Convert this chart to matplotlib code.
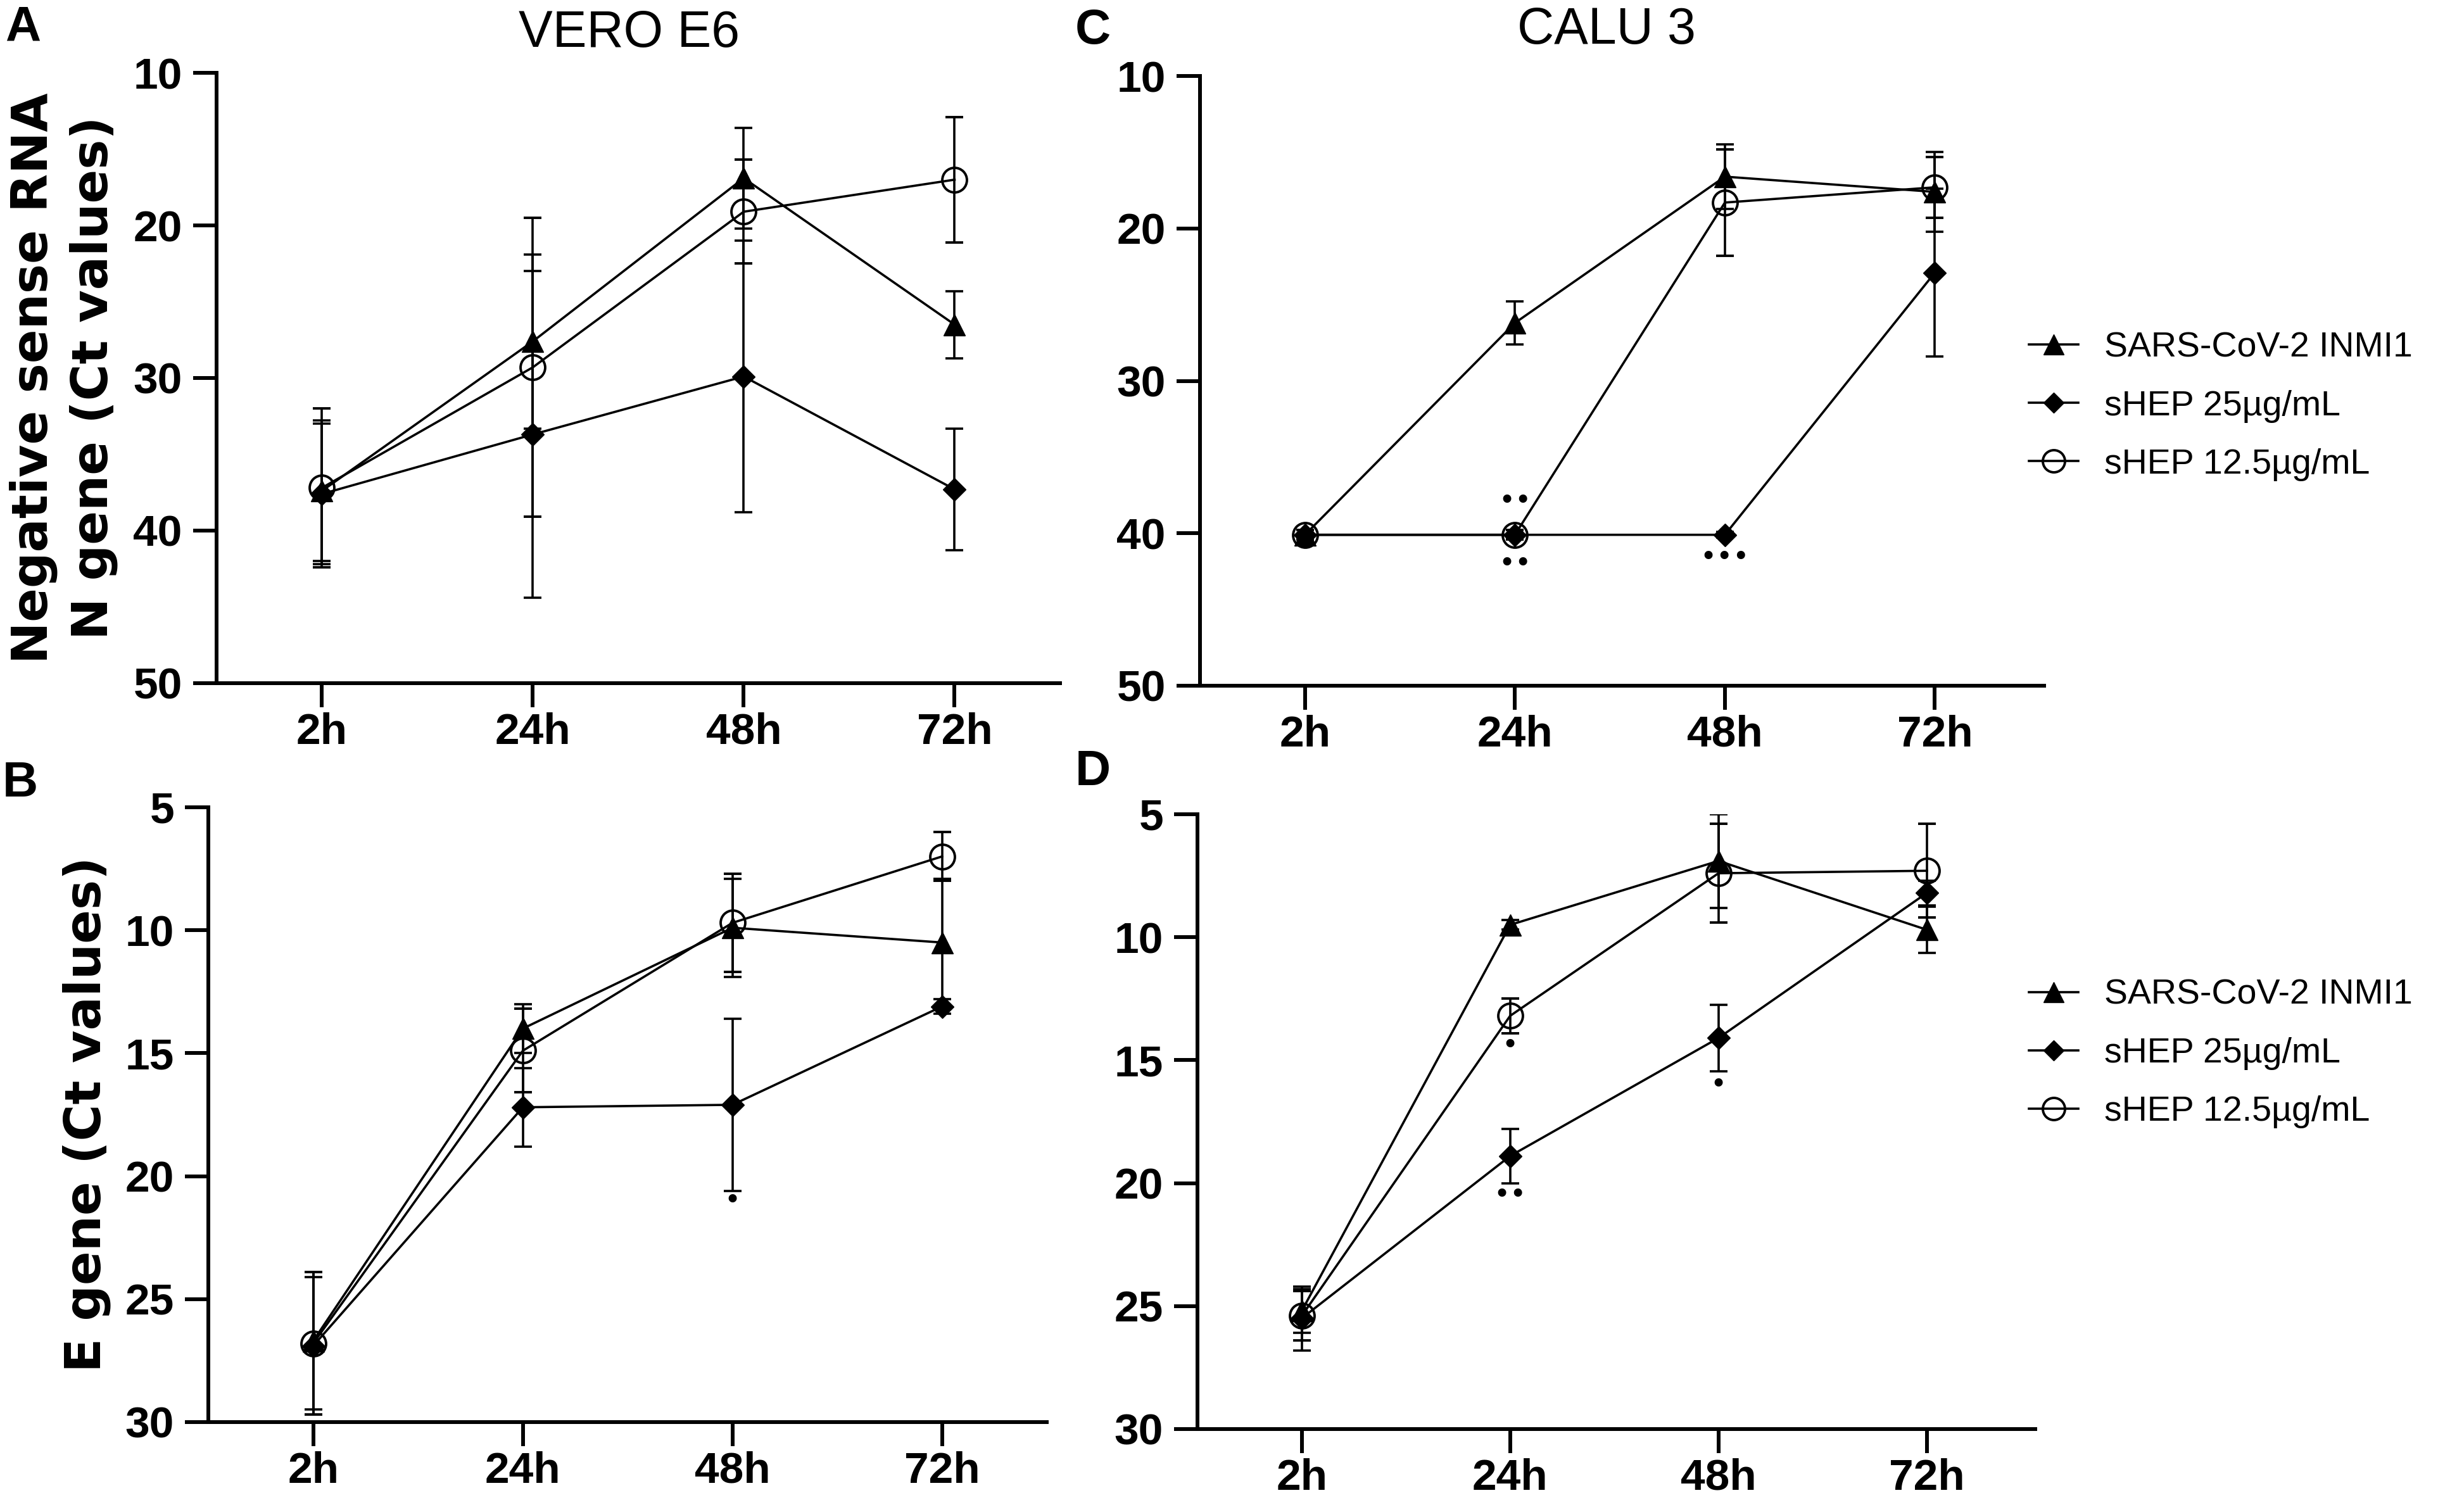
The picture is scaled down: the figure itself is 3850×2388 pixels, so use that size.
import matplotlib
matplotlib.use('Agg')
import matplotlib.pyplot as plt
from matplotlib import font_manager

# fonts: narrow (Arial Narrow like) for ticks if installed
names = set(f.name for f in font_manager.fontManager.ttflist)
NARROW = 'Liberation Sans Narrow' if 'Liberation Sans Narrow' in names else 'Liberation Sans'
ARIAL = 'Liberation Sans'
TICK_SIZE = 54 if NARROW != ARIAL else 50

times = ['2h', '24h', '48h', '72h']
labels = ['SARS-CoV-2 INMI1', 'sHEP 25µg/mL', 'sHEP 12.5µg/mL']

# A - VERO E6, negative sense RNA N gene
sars_A = [37.4, 27.6, 16.9, 26.5]
sars_A_err = [4.6, 5.7, 3.3, 2.2]
hep25_A = [37.6, 33.7, 29.9, 37.3]
hep25_A_err = [4.6, 10.7, 8.9, 4.0]
hep12_A = [37.2, 29.3, 19.1, 17.0]
hep12_A_err = [5.2, 9.8, 3.4, 4.1]

# B - VERO E6, E gene
sars_B = [26.7, 14.0, 9.9, 10.5]
sars_B_err = [2.8, 1.0, 2.0, 2.6]
hep25_B = [26.9, 17.2, 17.1, 13.1]
hep25_B_err = [2.8, 1.6, 3.5, 0.3]
hep12_B = [26.8, 14.9, 9.7, 7.0]
hep12_B_err = [2.9, 1.7, 2.0, 1.0]

# C - CALU 3, negative sense RNA N gene
sars_C = [40.1, 26.2, 16.6, 17.6]
sars_C_err = [0.3, 1.4, 2.1, 2.6]
hep25_C = [40.1, 40.1, 40.1, 22.9]
hep25_C_err = [0.3, 0.3, 0.2, 5.5]
hep12_C = [40.1, 40.1, 18.3, 17.3]
hep12_C_err = [0.3, 0.3, 3.5, 2.0]

# D - CALU 3, E gene
sars_D = [25.2, 9.5, 6.9, 9.7]
sars_D_err = [0.9, 0.2, 1.9, 0.95]
hep25_D = [25.5, 18.9, 14.1, 8.2]
hep25_D_err = [1.3, 1.1, 1.35, 0.5]
hep12_D = [25.4, 13.2, 7.4, 7.3]
hep12_D_err = [1.0, 0.7, 2.0, 1.9]

# significance marks (time index, Ct, text)
sig_B = [(2, 21.0, '•')]
sig_C = [(1, 37.9, '••'), (1, 42.0, '••'), (2, 41.6, '•••')]
sig_D = [(1, 14.4, '•'), (1, 20.5, '••'), (2, 16.0, '•')]

fig = plt.figure(figsize=(38.5, 23.88), dpi=100)

LW = 4.3


def panel(rect, series, yticks, xmax, sig):
    ax = fig.add_axes(rect)
    x = list(range(len(times)))
    styles = [dict(marker='^', ms=25, mfc='k'),
              dict(marker='D', ms=18, mfc='k'),
              dict(marker='o', ms=28, mfc='none', mew=2.8)]
    handles = []
    for (y, e), st in zip(series, styles):
        h = ax.errorbar(x, y, yerr=e, color='k', lw=2.6, elinewidth=2.6,
                        capsize=10, capthick=2.6, mec='k', **st)
        handles.append(h.lines[0])
    ax.set_xlim(-0.5, xmax)
    ax.set_ylim(yticks[-1], yticks[0])
    ax.set_xticks(x)
    ax.set_xticklabels(times, fontfamily=NARROW, fontweight='bold', fontsize=TICK_SIZE)
    ax.set_yticks(yticks)
    ax.set_yticklabels([str(t) for t in yticks], fontfamily=NARROW,
                       fontweight='bold', fontsize=TICK_SIZE)
    for s in ['top', 'right']:
        ax.spines[s].set_visible(False)
    for s in ['left', 'bottom']:
        ax.spines[s].set_linewidth(LW)
    ax.tick_params(axis='both', direction='out', length=27, width=LW)
    ax.tick_params(axis='y', pad=12)
    ax.tick_params(axis='x', pad=6)
    for i, yv, txt in sig:
        ax.text(i, yv, txt, ha='center', va='center', fontsize=32,
                fontfamily='DejaVu Sans')
    return ax, handles


axA, hA = panel([0.0888, 0.5482, 0.3460, 0.4036],
                [(sars_A, sars_A_err), (hep25_A, hep25_A_err), (hep12_A, hep12_A_err)],
                [10, 20, 30, 40, 50], 3.5, [])
axB, hB = panel([0.0855, 0.0595, 0.3439, 0.4066],
                [(sars_B, sars_B_err), (hep25_B, hep25_B_err), (hep12_B, hep12_B_err)],
                [5, 10, 15, 20, 25, 30], 3.5, sig_B)
axC, hC = panel([0.4922, 0.5465, 0.3462, 0.4032],
                [(sars_C, sars_C_err), (hep25_C, hep25_C_err), (hep12_C, hep12_C_err)],
                [10, 20, 30, 40, 50], 3.52, sig_C)
axD, hD = panel([0.4912, 0.0549, 0.3436, 0.4066],
                [(sars_D, sars_D_err), (hep25_D, hep25_D_err), (hep12_D, hep12_D_err)],
                [5, 10, 15, 20, 25, 30], 3.52, sig_D)

# legends to the right of C and D
for hs, ytop in [(hC, 0.7806), (hD, 0.3526)]:
    fig.legend(hs, labels, loc='upper left', bbox_to_anchor=(0.8322, ytop),
               frameon=False, prop=dict(family=ARIAL, size=40),
               borderpad=0, borderaxespad=0, handlelength=1.4,
               handletextpad=0.75, labelspacing=0.72, markerscale=0.9)

# axis labels
fig.text(0.026, 0.75, 'Negative sense RNA\nN gene (Ct values)', rotation=90,
         ha='center', va='center', fontsize=57, fontweight='bold',
         fontfamily='DejaVu Sans', linespacing=1.3)
fig.text(0.0356, 0.263, 'E gene (Ct values)', rotation=90, ha='center',
         va='center', fontsize=57, fontweight='bold', fontfamily='DejaVu Sans')

# titles
fig.text(0.258, 0.9937, 'VERO E6', ha='center', va='top', fontsize=58, fontfamily=ARIAL)
fig.text(0.659, 0.9958, 'CALU 3', ha='center', va='top', fontsize=58, fontfamily=ARIAL)

# panel letters
for lx, ly, letter in [(0.002, 0.997, 'A'), (0.001, 0.497, 'B'),
                       (0.441, 0.995, 'C'), (0.441, 0.5046, 'D')]:
    fig.text(lx, ly, letter, ha='left', va='top', fontsize=56,
             fontweight='bold', fontfamily=ARIAL)

fig.savefig('out.png', dpi=100, facecolor='white')
